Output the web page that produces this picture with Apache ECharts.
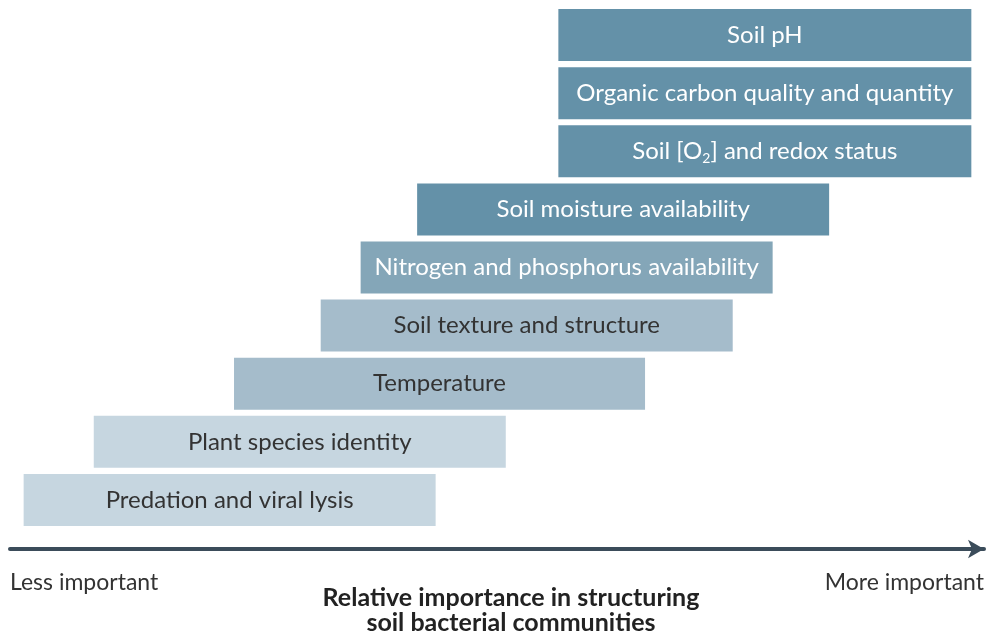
<!DOCTYPE html>
<html>
<head>
<meta charset="utf-8">
<script src="https://cdn.jsdelivr.net/npm/echarts@6/dist/echarts.min.js"></script>
<style>
  html, body { margin: 0; padding: 0; background: #fff; }
  #chart { width: 990px; height: 635px; }
</style>
</head>
<body>
<div id="chart"></div>
<script>
// factors, top (most important) to bottom
var factors = [
  'Soil pH',
  'Organic carbon quality and quantity',
  'Soil [O{sub|2}] and redox status',
  'Soil moisture availability',
  'Nitrogen and phosphorus availability',
  'Soil texture and structure',
  'Temperature',
  'Plant species identity',
  'Predation and viral lysis'
];
// range of relative importance (0 = less, 100 = more)
var rangeStart = [56.3, 56.3, 56.3, 41.8, 36.0, 31.9, 23.0, 8.6, 1.4];
var rangeEnd   = [98.7, 98.7, 98.7, 84.1, 78.3, 74.2, 65.2, 50.9, 43.7];
var barColors  = ['#6491a8', '#6491a8', '#6491a8', '#6491a8', '#84a6b8', '#a5bccb', '#a5bccb', '#c6d6e0', '#c6d6e0'];
var textColors = ['#fff', '#fff', '#fff', '#fff', '#fff', '#333', '#333', '#333', '#333'];
var endLabels  = ['Less important', 'More important'];

var chart = echarts.init(document.getElementById('chart'));

var option = {
  animation: false,
  textStyle: { fontFamily: 'Lato' },
  grid: { left: 10, right: 6, top: 6, bottom: 106, outerBoundsMode: 'none' },
  xAxis: {
    type: 'value',
    min: 0,
    max: 100,
    interval: 100,
    offset: 20,
    splitLine: { show: false },
    axisTick: { show: false },
    axisLine: {
      show: true,
      symbol: ['none', 'arrow'],
      symbolSize: [14, 16],
      lineStyle: { color: '#3b4c5a', width: 4 }
    },
    axisLabel: {
      margin: 22,
      fontSize: 23,
      color: '#333',
      alignMinLabel: 'left',
      alignMaxLabel: 'right',
      formatter: function (v) { return v === 0 ? endLabels[0] : endLabels[1]; }
    },
    name: 'Relative importance in structuring\nsoil bacterial communities',
    nameLocation: 'middle',
    nameGap: 36,
    nameMoveOverlap: false,
    nameTextStyle: { fontSize: 25, fontWeight: 'bold', color: '#222', lineHeight: 25, padding: [0, 0, 0, 28] }
  },
  yAxis: {
    type: 'category',
    inverse: true,
    data: factors,
    show: false
  },
  series: [
    {
      type: 'bar',
      stack: 'r',
      silent: true,
      barWidth: 52,
      itemStyle: { color: 'transparent' },
      data: rangeStart
    },
    {
      type: 'bar',
      stack: 'r',
      barWidth: 52,
      data: rangeEnd.map(function (e, i) {
        return {
          value: e - rangeStart[i],
          itemStyle: { color: barColors[i] },
          label: { color: textColors[i] }
        };
      }),
      label: {
        show: true,
        position: 'inside',
        fontSize: 24,
        formatter: function (p) { return factors[p.dataIndex]; },
        rich: {
          sub: { fontSize: 14, padding: [14, 0, 0, 0] }
        }
      }
    }
  ]
};

chart.setOption(option);
</script>
</body>
</html>
